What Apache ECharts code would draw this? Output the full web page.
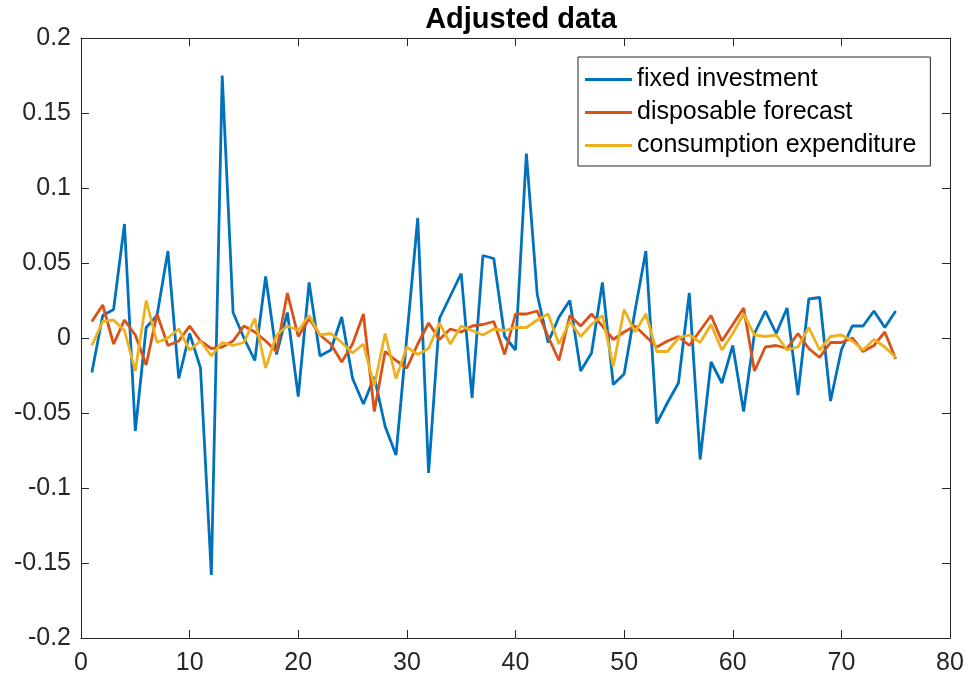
<!DOCTYPE html>
<html>
<head>
<meta charset="utf-8">
<script src="https://cdn.jsdelivr.net/npm/echarts@6/dist/echarts.min.js"></script>
<style>
html, body { margin: 0; padding: 0; background: #fff; }
#main { width: 973px; height: 688px; }
</style>
</head>
<body>
<div id="main"></div>
<script>
// observation index (x)
var periods = [1,2,3,4,5,6,7,8,9,10,11,12,13,14,15,16,17,18,19,20,21,22,23,24,25,
    26,27,28,29,30,31,32,33,34,35,36,37,38,39,40,41,42,43,44,45,46,47,48,49,50,
    51,52,53,54,55,56,57,58,59,60,61,62,63,64,65,66,67,68,69,70,71,72,73,74,75];

var fixedInvestment = [
    -0.023, 0.015, 0.019, 0.076, -0.062, 0.007, 0.015, 0.058, -0.027, 0.003,
    -0.020, -0.158, 0.175, 0.017, 0.000, -0.015, 0.041, -0.011, 0.017, -0.039,
    0.037, -0.012, -0.008, 0.014, -0.027, -0.044, -0.026, -0.059, -0.078, 0.001,
    0.080, -0.090, 0.013, 0.028, 0.043, -0.040, 0.055, 0.053, 0.001, -0.008,
    0.123, 0.029, -0.003, 0.014, 0.025, -0.022, -0.010, 0.037, -0.031, -0.024,
    0.018, 0.058, -0.057, -0.043, -0.030, 0.030, -0.081, -0.016, -0.030, -0.005,
    -0.049, 0.003, 0.018, 0.003, 0.020, -0.038, 0.026, 0.027, -0.042, -0.008,
    0.008, 0.008, 0.018, 0.007, 0.018
];

var disposableForecast = [
    0.011, 0.022, -0.004, 0.012, 0.002, -0.018, 0.016, -0.005, -0.002, 0.008,
    -0.002, -0.007, -0.006, -0.002, 0.008, 0.004, -0.002, -0.009, 0.030, 0.001,
    0.013, 0.002, -0.004, -0.016, -0.004, 0.016, -0.049, -0.009, -0.015, -0.020,
    -0.004, 0.010, -0.001, 0.006, 0.004, 0.008, 0.009, 0.011, -0.011, 0.016,
    0.016, 0.018, 0.001, -0.015, 0.015, 0.008, 0.016, 0.008, -0.001, 0.004,
    0.008, 0.001, -0.006, -0.002, 0.001, -0.005, 0.005, 0.015, -0.002, 0.009,
    0.020, -0.022, -0.006, -0.005, -0.007, 0.003, -0.007, -0.013, -0.003, -0.003,
    0.000, -0.009, -0.005, 0.004, -0.014
];

var consumptionExpenditure = [
    -0.005, 0.011, 0.012, 0.005, -0.022, 0.025, -0.003, 0.000, 0.006, -0.008,
    -0.002, -0.012, -0.003, -0.005, -0.003, 0.013, -0.020, 0.002, 0.008, 0.005,
    0.015, 0.002, 0.003, -0.003, -0.010, -0.004, -0.032, 0.003, -0.027, -0.006,
    -0.011, -0.007, 0.010, -0.004, 0.008, 0.005, 0.002, 0.006, 0.005, 0.007,
    0.007, 0.012, 0.016, -0.004, 0.011, 0.001, 0.009, 0.015, -0.019, 0.019,
    0.004, 0.016, -0.009, -0.009, 0.000, 0.002, -0.003, 0.009, -0.008, 0.003,
    0.016, 0.002, 0.001, 0.002, -0.008, -0.006, 0.007, -0.008, 0.001, 0.002,
    -0.002, -0.008, -0.001, -0.006, -0.013
];

var seriesNames = ['fixed investment', 'disposable forecast', 'consumption expenditure'];
var seriesColors = ['#0072BD', '#D95319', '#EDB120'];

function pairs(values) {
    var d = [];
    for (var i = 0; i < values.length; i++) {
        d.push([periods[i], values[i]]);
    }
    return d;
}

var axisColor = '#262626';
var font = '"Liberation Sans", Arial, Helvetica, sans-serif';

function xAxisDef(pos, showLabel) {
    return {
        type: 'value',
        position: pos,
        min: 0, max: 80, interval: 10,
        axisLine: { show: true, onZero: false, lineStyle: { color: axisColor, width: 1 } },
        axisTick: { show: true, inside: true, length: 8, lineStyle: { color: axisColor } },
        axisLabel: { show: showLabel, color: axisColor, fontSize: 25, fontFamily: font, margin: 13 },
        splitLine: { show: false }
    };
}

function yAxisDef(pos, showLabel) {
    return {
        type: 'value',
        position: pos,
        min: -0.2, max: 0.2, interval: 0.05,
        axisLine: { show: true, onZero: false, lineStyle: { color: axisColor, width: 1 } },
        axisTick: { show: true, inside: true, length: 8, lineStyle: { color: axisColor } },
        axisLabel: {
            show: showLabel, color: axisColor, fontSize: 25, fontFamily: font, margin: 10,
            formatter: function (v) { return String(+v.toFixed(2)); }
        },
        splitLine: { show: false }
    };
}

var option = {
    animation: false,
    backgroundColor: '#fff',
    title: {
        text: 'Adjusted data',
        left: 516,
        top: 0,
        textAlign: 'center',
        textStyle: { fontFamily: font, fontSize: 29, fontWeight: 'bold', color: '#000' }
    },
    legend: {
        data: seriesNames,
        orient: 'vertical',
        left: 578,
        top: 57,
        padding: [10, 14, 8, 7],
        itemGap: 8,
        itemWidth: 47,
        itemHeight: 3,
        itemTextGap: 6,
        icon: 'rect',
        borderColor: axisColor,
        borderWidth: 1,
        backgroundColor: '#fff',
        textStyle: { fontFamily: font, fontSize: 25, color: '#000', lineHeight: 25 }
    },
    grid: { left: 81, right: 23, top: 38, bottom: 50 },
    xAxis: [xAxisDef('bottom', true), xAxisDef('top', false)],
    yAxis: [yAxisDef('left', true), yAxisDef('right', false)],
    series: [0, 1, 2].map(function (k) {
        var vals = [fixedInvestment, disposableForecast, consumptionExpenditure][k];
        return {
            name: seriesNames[k],
            type: 'line',
            data: pairs(vals),
            showSymbol: false,
            symbol: 'none',
            color: seriesColors[k],
            lineStyle: { width: 2.8, color: seriesColors[k] }
        };
    })
};

var myChart = echarts.init(document.getElementById('main'));
myChart.setOption(option);
</script>
</body>
</html>
